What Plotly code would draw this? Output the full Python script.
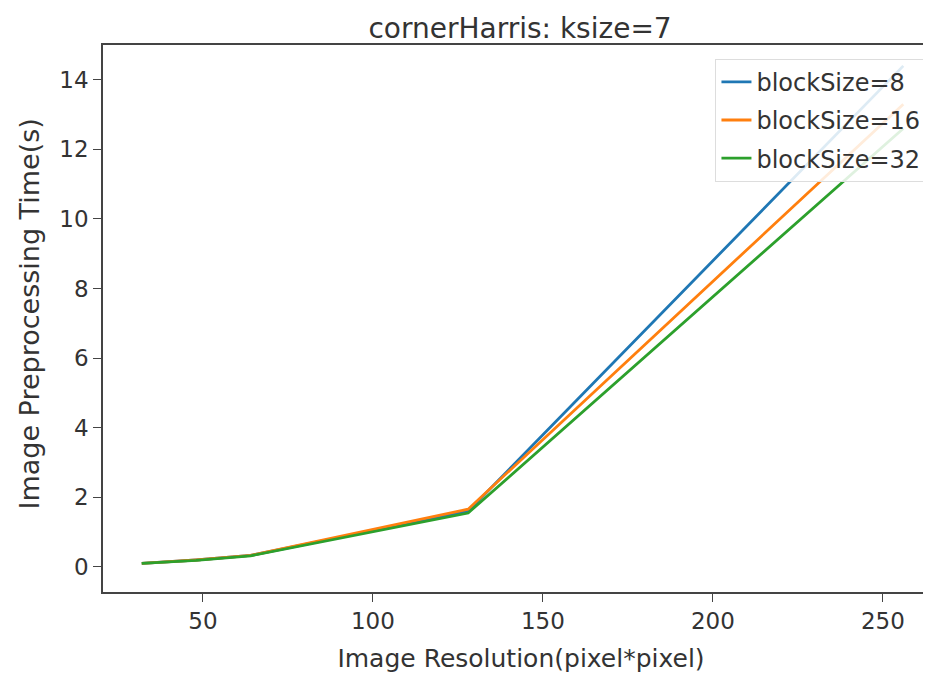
import plotly.graph_objects as go

resolution = [32, 48, 64, 128, 256]
block_sizes = ["blockSize=8", "blockSize=16", "blockSize=32"]
time_bs8 = [0.10, 0.20, 0.33, 1.60, 14.40]
time_bs16 = [0.10, 0.20, 0.33, 1.66, 13.30]
time_bs32 = [0.10, 0.19, 0.32, 1.55, 12.60]
x_ticks = [50, 100, 150, 200, 250]
y_ticks = [0, 2, 4, 6, 8, 10, 12, 14]

colors = ["#1f77b4", "#ff7f0e", "#2ca02c"]
series = [time_bs8, time_bs16, time_bs32]

fig = go.Figure()
for name, ys, c in zip(block_sizes, series, colors):
    fig.add_trace(go.Scatter(x=resolution, y=ys, mode="lines", name=name,
                             legendgroup=name,
                             line=dict(color=c, width=2.8)))

font = "DejaVu Sans"
fig.update_layout(
    width=931, height=673,
    margin=dict(l=95, r=0, t=37, b=89, autoexpand=False),
    paper_bgcolor="white", plot_bgcolor="white",
    font=dict(family=font, size=23, color="#333333"),
    title=dict(text="cornerHarris: ksize=7", x=0.55, xref="container", xanchor="center",
               y=0.985, yref="container", yanchor="top", pad=dict(t=0),
               font=dict(size=28, color="#333333")),
    showlegend=True,
    legend=dict(x=0.985, xanchor="right", y=0.975, yanchor="top",
                bgcolor="rgba(255,255,255,0.85)", bordercolor="#dddddd", borderwidth=1,
                font=dict(size=24, color="#333333"), tracegroupgap=4),
    xaxis=dict(range=[20.6, 266.5], tickvals=x_ticks, showgrid=False, zeroline=False,
               automargin=False,
               showline=True, linecolor="#444444", linewidth=1.5, mirror=True,
               ticks="outside", ticklen=8, tickcolor="#444444",
               title=dict(text="Image Resolution(pixel*pixel)", font=dict(size=25), standoff=16),
               tickfont=dict(size=23)),
    yaxis=dict(range=[-0.72, 15.0], tickvals=y_ticks, showgrid=False, zeroline=False,
               automargin=False,
               showline=True, linecolor="#444444", linewidth=1.5,
               ticks="outside", ticklen=8, tickcolor="#444444",
               tickfont=dict(size=23)),
    annotations=[dict(text="Image Preprocessing Time(s)", textangle=-90,
                      xref="paper", yref="paper", x=-0.088, y=0.508,
                      xanchor="center", yanchor="middle", showarrow=False,
                      font=dict(size=27, color="#333333"))],
)

fig.write_html("out.html")
